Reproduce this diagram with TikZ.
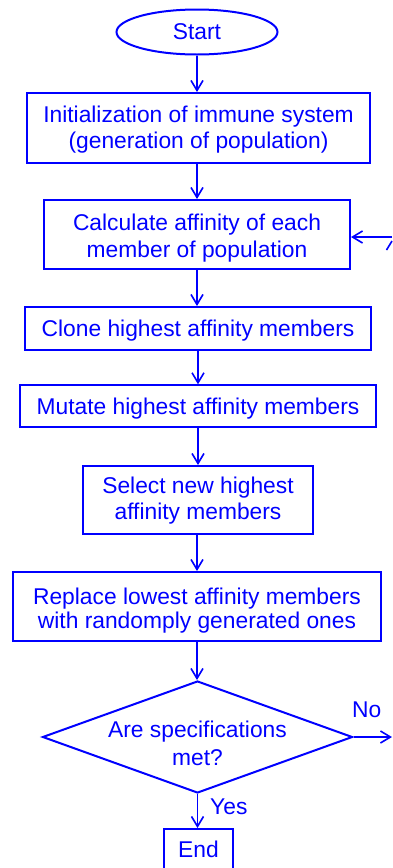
\documentclass[tikz,border=0pt]{standalone}
\usepackage{fontspec}
\setmainfont{Liberation Sans}
\usetikzlibrary{arrows.meta,shapes.geometric}
\definecolor{fcblue}{RGB}{0,0,255}
\newcommand{\flowfont}[1]{\fontsize{22.8}{#1}\selectfont}
\begin{document}
\begin{tikzpicture}[x=1pt,y=-1pt,
  every node/.style={text=fcblue, font=\flowfont{27}},
  stepbox/.style={draw=fcblue, line width=2pt, inner sep=0pt, align=center, text height=20pt},
  twoline/.style={text height=50pt},
  termbox/.style={draw=fcblue, line width=2pt, ellipse, inner sep=0pt, text height=20pt},
  testbox/.style={draw=fcblue, line width=2pt, diamond, aspect=2.77, inner xsep=0pt,
    inner ysep=-15pt, align=center, text height=60pt},
  flow/.style={draw=fcblue, line width=1.6pt,
    -{Straight Barb[length=10pt,width=12pt,line width=1.6pt]}},
  edgelabel/.style={inner sep=0pt}
]
\useasboundingbox (0,0) rectangle (392,868);

% process steps
\node[termbox, minimum width=161pt, minimum height=45pt, text depth=6pt] (start) at (197,32) {Start};
\node[stepbox, twoline, minimum width=343pt, minimum height=70pt, text depth=9pt, font=\flowfont{25.8}]
  (init) at (198.5,128)
  {Initialization of immune system\\(generation of population)};
\node[stepbox, twoline, minimum width=306pt, minimum height=69pt, text depth=4.4pt, font=\flowfont{27.3}]
  (calc) at (197,234.5)
  {Calculate affinity of each\\member of population};
\node[stepbox, minimum width=346pt, minimum height=43pt, text depth=4pt] (clone) at (198,328.5)
  {Clone highest affinity members};
\node[stepbox, minimum width=356pt, minimum height=42pt, text depth=4pt] (mutate) at (198,406.3)
  {Mutate highest affinity members};
\node[stepbox, twoline, minimum width=230pt, minimum height=68pt, text depth=11.4pt, font=\flowfont{26}]
  (select) at (198,500)
  {Select new highest\\affinity members};
\node[stepbox, twoline, minimum width=368pt, minimum height=69pt, text depth=6.4pt, font=\flowfont{24}]
  (replace) at (197,606.5)
  {Replace lowest affinity members\\with randomply generated ones};
\node[testbox, minimum width=310pt, minimum height=112pt, text depth=2.6pt, font=\flowfont{28.4}]
  (test) at (197.5,737)
  {Are specifications\\met?};
\node[stepbox, minimum width=69pt, minimum height=44pt, text depth=6.6pt] (end) at (198.5,851) {End};

% main flow
\draw[flow] (start.south) -- (start.south |- init.north);
\draw[flow] (init.south -| start.south) -- (start.south |- calc.north);
\draw[flow] (calc.south) -- (calc.south |- clone.north);
\draw[flow] (clone.south) -- (clone.south |- mutate.north);
\draw[flow] (mutate.south) -- (mutate.south |- select.north);
\draw[flow] (select.south -| calc.south) -- (calc.south |- replace.north);
\draw[flow] (replace.south) -- (replace.south |- test.north);
\draw[flow] (test.south) -- (test.south |- end.north);

% exits of the test
\coordinate (noend) at (392,737);
\draw[flow] (test.east) -- (noend);
\node[edgelabel, anchor=base west] (nolabel) at (352,717.7) {No};
\node[edgelabel, anchor=base west] (yeslabel) at (210,814) {Yes};

% loop back into the affinity step
\coordinate (loopin) at (392,237);
\draw[flow] (loopin) -- (calc.east |- loopin);
\coordinate (loopa) at (386.5,250);
\coordinate (loopb) at (392,241);
\draw[fcblue, line width=1.6pt] (loopa) -- (loopb);
\end{tikzpicture}
\end{document}
